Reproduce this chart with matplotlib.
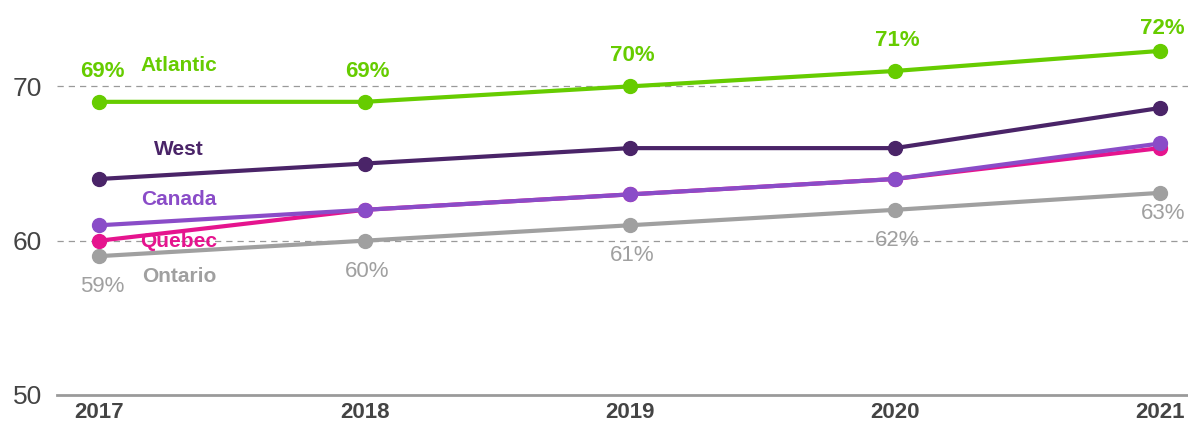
import matplotlib
matplotlib.use('Agg')
import matplotlib.pyplot as plt

plt.rcParams['font.family'] = ['Liberation Sans Narrow', 'Liberation Sans', 'DejaVu Sans']

years = [2017, 2018, 2019, 2020, 2021]
atlantic = [69.0, 69.0, 70.0, 71.0, 72.3]
west = [64.0, 65.0, 66.0, 66.0, 68.6]
canada = [61.0, 62.0, 63.0, 64.0, 66.3]
quebec = [60.0, 62.0, 63.0, 64.0, 66.0]
ontario = [59.0, 60.0, 61.0, 62.0, 63.1]
atlantic_labels = ['69%', '69%', '70%', '71%', '72%']
ontario_labels = ['59%', '60%', '61%', '62%', '63%']

green = '#66cc00'
dark = '#4a2468'
purple = '#8a4cc8'
pink = '#e5148e'
grey = '#a0a0a0'

fig = plt.figure(figsize=(11.88, 4.25), dpi=100)
ax = fig.add_axes([0.048, 0.0706, 0.952, 0.9294])

ax.set_xlim(2016.84, 2021.106)
ax.set_ylim(50, 75.6)

for y in [60, 70]:
    ax.axhline(y, color='#9a9a9a', lw=0.9, ls=(0, (5, 4)), zorder=1)

series = [(ontario, grey), (quebec, pink), (canada, purple), (west, dark), (atlantic, green)]
for vals, c in series:
    ax.plot(years, vals, color=c, lw=3, marker='o', ms=10, zorder=3)

# point labels
for i, (x, y) in enumerate(zip(years, atlantic)):
    off = 16 if i == 4 else 22
    ax.annotate(atlantic_labels[i], (x, y), xytext=(2, off), textcoords='offset points',
                ha='center', va='center', color=green, fontsize=16, fontweight='bold')
for i, (x, y) in enumerate(zip(years, ontario)):
    off = -15 if i == 4 else -22
    ax.annotate(ontario_labels[i], (x, y), xytext=(2, off), textcoords='offset points',
                ha='center', va='center', color=grey, fontsize=16)

# series names
names = [('Atlantic', 71.36, green), ('West', 65.92, dark),
         ('Canada', 62.69, purple), ('Quebec', 59.94, pink),
         ('Ontario', 57.7, grey)]
for name, y, c in names:
    ax.text(2017.3, y, name, ha='center', va='center', color=c, fontsize=15, fontweight='bold', zorder=4)

ax.set_yticks([50, 60, 70])
ax.set_xticks(years)
ax.set_xticklabels([str(y) for y in years], fontweight='bold', fontsize=16, color='#444444')
ax.tick_params(axis='y', length=0, labelsize=19, labelcolor='#444444', pad=11)
ax.tick_params(axis='x', length=0, pad=5)

for s in ['top', 'right', 'left']:
    ax.spines[s].set_visible(False)
ax.spines['bottom'].set_color('#9a9a9a')
ax.spines['bottom'].set_linewidth(2)

fig.savefig('out.png', dpi=100)
